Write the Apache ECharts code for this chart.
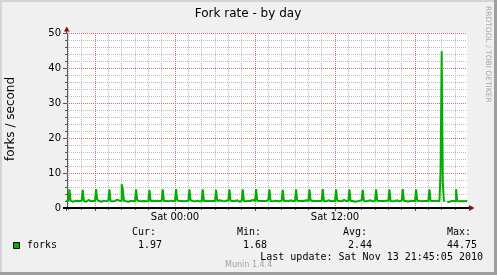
<!DOCTYPE html>
<html><head><meta charset="utf-8">
<script src="https://cdn.jsdelivr.net/npm/echarts@6/dist/echarts.min.js"></script>
<style>html,body{margin:0;padding:0;background:#f0f0f0}#c{width:497px;height:275px}</style>
</head><body><div id="c"></div>
<script>
// ---- data ----
const titleText = 'Fork rate - by day';
const yAxisName = 'forks / second';
const seriesName = 'forks';
const watermark = 'RRDTOOL / TOBI OETIKER';
const footer = 'Munin 1.4.4';
const lastUpdate = 'Last update: Sat Nov 13 21:45:05 2010';
// hours relative to Sat 00:00
const xMin = -8.1, xMax = 21.9;
const firstSampleHour = -8 - 10 / 60;   // Fri 15:50
const sampleStepHours = 5 / 60;         // 5-minute samples
const xMinorTicks = [-8, -7, -5, -4, -3, -2, -1, 1, 2, 3, 4, 5, 7, 8, 9, 10, 11, 13, 14, 15, 16, 17, 19, 20, 21];
const xMajorTicks = [-6, 0, 6, 12, 18];
const xLabelValues = [0, 12];
const xLabelTexts = ['Sat 00:00', 'Sat 12:00'];
const yMinorTicks = [2, 4, 6, 8, 12, 14, 16, 18, 22, 24, 26, 28, 32, 34, 36, 38, 42, 44, 46, 48];
const yMajorTicks = [0, 10, 20, 30, 40, 50];
const statHeads = ['Cur:', 'Min:', 'Avg:', 'Max:'];
const statValues = ['1.97', '1.68', '2.44', '44.75'];
// one row per hour (12 five-minute samples), starting Fri 15:50
const forks = [
  2.1, 2.0, 2.2, 5.3, 2.1, 1.8, 1.9, 2.0, 2.2, 2.1, 1.9, 2.0,
  2.0, 2.1, 1.9, 5.2, 2.0, 1.8, 2.0, 2.3, 2.2, 2.0, 1.9, 2.0,
  2.1, 2.0, 2.2, 5.4, 2.3, 2.0, 1.9, 1.8, 2.0, 2.1, 2.0, 1.9,
  2.0, 2.2, 2.1, 5.3, 2.0, 1.9, 2.1, 2.0, 2.2, 2.4, 2.3, 2.1,
  2.0, 2.0, 6.8, 5.3, 2.1, 1.9, 2.0, 1.8, 1.9, 2.0, 2.1, 2.0,
  2.0, 1.9, 2.1, 5.3, 2.2, 2.0, 2.0, 1.9, 2.1, 2.0, 1.8, 1.9,
  2.1, 2.0, 2.0, 5.2, 2.0, 2.1, 1.9, 2.0, 2.2, 2.1, 2.0, 2.0,
  1.9, 2.0, 2.1, 5.3, 2.1, 2.0, 1.8, 1.9, 2.0, 2.1, 2.2, 2.0,
  2.0, 2.1, 2.0, 5.4, 2.2, 2.0, 1.9, 2.0, 2.1, 1.9, 1.8, 2.0,
  2.0, 2.1, 2.3, 5.3, 2.2, 2.0, 2.0, 1.9, 2.0, 2.1, 2.0, 1.9,
  2.0, 1.9, 2.0, 5.3, 2.0, 2.1, 2.2, 2.0, 1.9, 2.0, 2.1, 2.0,
  2.1, 2.0, 1.9, 5.2, 2.0, 2.2, 2.3, 2.1, 2.0, 1.9, 2.0, 2.1,
  2.0, 2.2, 2.1, 5.3, 2.1, 2.0, 1.9, 2.0, 2.1, 2.2, 2.0, 1.8,
  1.9, 2.0, 2.0, 5.3, 2.0, 1.9, 2.1, 2.0, 1.9, 2.0, 2.2, 2.3,
  2.2, 2.0, 2.0, 5.4, 2.1, 2.0, 1.9, 2.0, 2.1, 2.0, 1.9, 2.0,
  2.1, 2.3, 2.1, 5.3, 2.0, 1.9, 2.0, 2.1, 2.2, 2.0, 2.0, 1.9,
  2.0, 2.1, 2.0, 5.2, 2.0, 2.1, 2.0, 1.9, 2.0, 2.2, 2.1, 2.0,
  1.9, 2.0, 2.2, 5.3, 2.1, 2.0, 2.0, 2.1, 1.9, 2.0, 2.3, 2.2,
  2.0, 2.0, 2.1, 5.3, 2.2, 2.0, 1.9, 2.0, 2.1, 2.0, 1.9, 2.0,
  2.1, 2.0, 2.0, 5.4, 2.0, 1.9, 2.1, 2.2, 2.0, 2.0, 2.1, 2.0,
  2.0, 1.9, 2.1, 5.3, 2.1, 2.0, 2.0, 1.9, 2.2, 2.3, 2.1, 2.0,
  2.0, 2.1, 2.0, 5.3, 2.0, 2.0, 1.9, 1.8, 1.7, 1.9, 2.0, 2.1,
  2.0, 2.2, 2.1, 5.2, 2.0, 1.9, 2.0, 2.1, 2.0, 2.2, 2.0, 1.9,
  2.0, 2.0, 2.1, 5.3, 2.1, 2.0, 1.9, 2.0, 2.1, 2.0, 2.0, 2.1,
  2.2, 2.1, 2.0, 5.3, 2.0, 1.9, 2.0, 2.0, 2.1, 2.2, 2.0, 1.9,
  2.0, 2.1, 2.0, 5.4, 2.1, 2.0, 1.9, 1.8, 2.0, 2.1, 2.0, 2.0,
  1.9, 2.0, 2.1, 5.3, 2.0, 2.1, 2.0, 1.9, 2.0, 2.0, 2.1, 2.0,
  2.0, 2.1, 2.0, 5.3, 2.1, 2.0, 1.9, 2.0, 2.0, 2.1, 2.0, 1.9,
  2.0, 10.5, 44.75, 7.5, 2.1, null, null, 1.7, 1.8, 1.9, 2.0, 1.9,
  2.0, 1.9, 2.0, 5.4, 2.0, 1.9, 1.8, 2.0, 2.1, 1.9, 2.0, 2.0,
  1.97, 1.97
];

// ---- chart ----
const GREEN = '#00b000';
const GRID_MINOR = '#bcbcbc';
const GRID_MAJOR = '#e06a6a';
const ARROW = '#801010';
const SANS = 'DejaVu Sans';
const MONO = 'DejaVu Sans Mono';
const G = { left: 67, top: 33, width: 400, height: 175 };

const seriesData = forks.map((v, i) => [firstSampleHour + i * sampleStepHours, v]);

const chart = echarts.init(document.getElementById('c'), null, { renderer: 'canvas' });

function txt(text, x, y, opt) {
  return {
    type: 'text', x: x, y: y, silent: true,
    style: Object.assign({ text: text, fill: '#000', font: '10px ' + MONO, align: 'left', verticalAlign: 'middle' }, opt || {})
  };
}

const graphics = [
  { type: 'rect', shape: { x: 0, y: 0, width: 497, height: 2 }, style: { fill: '#d4d4d4' }, silent: true },
  { type: 'rect', shape: { x: 0, y: 0, width: 2, height: 275 }, style: { fill: '#d4d4d4' }, silent: true },
  { type: 'rect', shape: { x: 0, y: 272, width: 497, height: 3 }, style: { fill: '#9e9e9e' }, silent: true },
  { type: 'rect', shape: { x: 494, y: 0, width: 3, height: 275 }, style: { fill: '#9e9e9e' }, silent: true },
  txt(titleText, 248, 14, { font: '12px ' + SANS, align: 'center' }),
  Object.assign(txt(yAxisName, 11, 119, { font: '12px ' + SANS, align: 'center' }), { rotation: Math.PI / 2 }),
  Object.assign(txt(watermark, 488, 6, { font: '7.5px ' + SANS, fill: '#a8a8a8', align: 'left' }), { rotation: -Math.PI / 2 }),
  { type: 'line', shape: { x1: 66.5, y1: 31, x2: 66.5, y2: 33 }, style: { stroke: '#555', lineWidth: 1 }, silent: true },
  { type: 'line', shape: { x1: 66.5, y1: 208, x2: 66.5, y2: 211 }, style: { stroke: '#555', lineWidth: 1 }, silent: true },
  { type: 'line', shape: { x1: 63, y1: 208, x2: 470, y2: 208 }, style: { stroke: '#000', lineWidth: 2 }, silent: true, z: 10 },
  { type: 'polygon', shape: { points: [[64, 31.5], [69.5, 31.5], [66.75, 26.5]] }, style: { fill: ARROW }, silent: true },
  { type: 'polygon', shape: { points: [[469, 205], [469, 211], [474.5, 208]] }, style: { fill: ARROW }, silent: true, z: 11 },
  { type: 'rect', shape: { x: 13.5, y: 242.5, width: 6, height: 6 }, style: { fill: GREEN, stroke: '#000', lineWidth: 1 }, silent: true },
  txt(seriesName, 27, 245.5),
  txt(lastUpdate, 483, 257.5, { align: 'right' }),
  txt(footer, 225, 264.5, { font: '8px ' + SANS, fill: '#a0a0a0' })
];
const headX = [132, 237, 343, 447];
const valX = [138, 243, 348, 447];
statHeads.forEach((h, i) => graphics.push(txt(h, headX[i], 232.5)));
statValues.forEach((v, i) => graphics.push(txt(v, valX[i], 245.5)));

const axisCommon = { min: xMin, max: xMax, type: 'value', position: 'bottom' };

chart.setOption({
  backgroundColor: '#f0f0f0',
  animation: false,
  grid: Object.assign({ containLabel: false, backgroundColor: '#ffffff', show: true, borderWidth: 0 }, G),
  xAxis: [
    Object.assign({}, axisCommon, {
      z: 0,
      axisLine: { show: false, onZero: false },
      axisTick: { show: true, length: 2, customValues: xMinorTicks, lineStyle: { color: '#555' } },
      axisLabel: { show: false },
      splitLine: { show: true, lineStyle: { color: GRID_MINOR, width: 1, type: [1, 1] } }
    }),
    Object.assign({}, axisCommon, {
      z: 1,
      axisLine: { show: false, onZero: false },
      axisTick: { show: true, length: 3, customValues: xMajorTicks, lineStyle: { color: '#555' } },
      axisLabel: {
        show: true, margin: 4, color: '#000', fontFamily: SANS, fontSize: 10,
        customValues: xLabelValues,
        formatter: v => { const k = xLabelValues.indexOf(Math.round(v)); return k >= 0 ? xLabelTexts[k] : ''; }
      },
      splitLine: { show: true, lineStyle: { color: GRID_MAJOR, width: 1, type: [1, 1] } }
    })
  ],
  yAxis: [
    {
      type: 'value', min: 0, max: 50, position: 'left', z: 0,
      axisLine: { show: true, onZero: false, lineStyle: { color: '#555', width: 1 } },
      axisTick: { show: true, length: 2, customValues: yMinorTicks, lineStyle: { color: '#555' } },
      axisLabel: { show: false },
      splitLine: { show: true, lineStyle: { color: GRID_MINOR, width: 1, type: [1, 1] } }
    },
    {
      type: 'value', min: yMajorTicks[0], max: yMajorTicks[yMajorTicks.length - 1], position: 'left', z: 1,
      axisLine: { show: false, onZero: false },
      axisTick: { show: true, length: 4, customValues: yMajorTicks, lineStyle: { color: '#555' } },
      axisLabel: { show: true, margin: 6, color: '#000', fontFamily: SANS, fontSize: 10, customValues: yMajorTicks },
      splitLine: { show: true, showMinLine: false, lineStyle: { color: GRID_MAJOR, width: 1, type: [1, 1] } }
    }
  ],
  series: [{
    name: seriesName,
    type: 'line',
    xAxisIndex: 0, yAxisIndex: 0,
    step: 'end',
    data: seriesData,
    showSymbol: false,
    symbol: 'none',
    connectNulls: false,
    clip: true,
    lineStyle: { color: GREEN, width: 2 },
    z: 5
  }],
  graphic: graphics
});
</script>
</body></html>
